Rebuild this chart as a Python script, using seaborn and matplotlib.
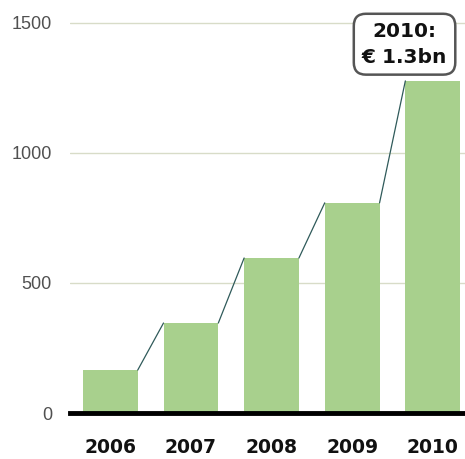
import matplotlib
matplotlib.use("Agg")
import matplotlib.pyplot as plt
import seaborn as sns
import pandas as pd

years = ["2006", "2007", "2008", "2009", "2010"]
values = [165, 346, 596, 808, 1277]
y_ticks = [0, 500, 1000, 1500]
annotation_text = "2010:\n€ 1.3bn"

sns.set_theme(style="white")
plt.rcParams['font.family'] = ['DejaVu Sans']

df = pd.DataFrame({"year": years, "value": values})

fig = plt.figure(figsize=(4.65, 4.59), dpi=100)
ax = fig.add_axes([70/465, 46/459, 395/465, 413/459])

bar_w = 0.68
sns.barplot(data=df, x="year", y="value", color="#a8d08d", saturation=1,
            width=bar_w, linewidth=0, ax=ax, zorder=2)

# connecting lines: right top of bar i to left top of bar i+1
for i in range(len(values) - 1):
    ax.plot([i + bar_w/2, i + 1 - bar_w/2], [values[i], values[i+1]],
            color="#2f5a5a", lw=0.9, zorder=3)

ax.set_xlim(-0.5, 4.4)
ax.set_ylim(0, 1588)
ax.set_yticks(y_ticks)
ax.set_yticklabels([str(t) for t in y_ticks], family=['Liberation Sans'],
                   fontsize=13, color="#505050")
ax.yaxis.grid(True, color="#d8dcc8", lw=1, zorder=0)
ax.set_axisbelow(True)
ax.tick_params(axis='y', length=0, pad=13)
ax.tick_params(axis='x', length=0, pad=18)
for lbl in ax.get_xticklabels():
    lbl.set_fontweight('bold')
    lbl.set_fontsize(13.5)
    lbl.set_color('#111111')
ax.set_xlabel("")
ax.set_ylabel("")
for s in ["top", "right", "left"]:
    ax.spines[s].set_visible(False)
ax.spines["bottom"].set_color("black")
ax.spines["bottom"].set_linewidth(3.5)
ax.spines["bottom"].set_zorder(4)

ax.text(3.65, 1418, annotation_text, ha="center", va="center",
        fontsize=14.5, fontweight="bold", color="#111111", linespacing=1.45,
        bbox=dict(boxstyle="round,pad=0.4,rounding_size=0.6", fc="white",
                  ec="#555555", lw=1.8), zorder=5)

fig.savefig("out.png", dpi=100)
